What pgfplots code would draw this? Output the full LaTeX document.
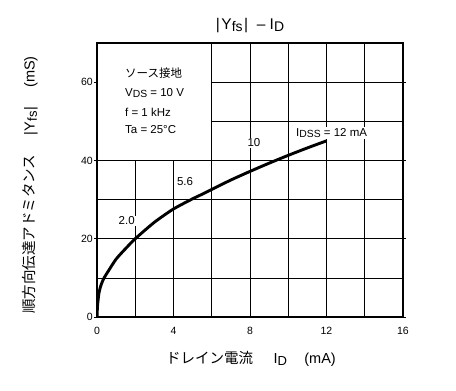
\documentclass[border=0pt]{standalone}
\usepackage{fontspec}
\setmainfont{Liberation Sans}
\newfontfamily\jp{Noto Sans CJK JP}
\usepackage{graphicx}
\usepackage{pgfplots}
\pgfplotsset{compat=1.18}
\newcommand{\lo}[1]{\raisebox{-0.3ex}{\scalebox{0.9}{#1}}}
\begin{document}
\begin{tikzpicture}[x=1pt,y=1pt]
\useasboundingbox (0pt,0pt) rectangle (456pt,-391pt);
\begin{axis}[
  at={(97pt,-317pt)}, anchor=south west,
  scale only axis, width=306pt, height=274pt,
  xmin=0, xmax=16, ymin=0, ymax=70,
  xtick={0,4,8,12,16}, ytick={0,20,40,60},
  axis line style={line width=1.6pt},
  tick align=outside,
  x tick style={draw=none},
  y tick style={black, line width=0.7pt},
  major tick length=3pt,
  /pgf/number format/assume math mode=true,
  tick label style={font=\fontsize{10.5}{12}\selectfont},
  yticklabel style={inner sep=1pt},
  xticklabel style={yshift=-4pt},
]
% grid
\draw[line width=0.7pt] (axis cs:2,0) -- (axis cs:2,40);
\draw[line width=0.7pt] (axis cs:4,0) -- (axis cs:4,40);
\draw[line width=0.7pt] (axis cs:6,0) -- (axis cs:6,70);
\draw[line width=0.7pt] (axis cs:8,0) -- (axis cs:8,70);
\draw[line width=0.7pt] (axis cs:10,0) -- (axis cs:10,70);
\draw[line width=0.7pt] (axis cs:12,0) -- (axis cs:12,70);
\draw[line width=0.7pt] (axis cs:14,0) -- (axis cs:14,70);
\draw[line width=0.7pt] (axis cs:0,10) -- (axis cs:16,10);
\draw[line width=0.7pt] (axis cs:0,20) -- (axis cs:16,20);
\draw[line width=0.7pt] (axis cs:0,30) -- (axis cs:16,30);
\draw[line width=0.7pt] (axis cs:0,40) -- (axis cs:16,40);
\draw[line width=0.7pt] (axis cs:6,50) -- (axis cs:16,50);
\draw[line width=0.7pt] (axis cs:6,60) -- (axis cs:16,60);
\addplot[black, line width=2.9pt, smooth, tension=0.4] coordinates {
 (0,0) (0.03,3) (0.1,6) (0.2,8) (0.35,9.8) (0.6,11.8) (1,14.8) (1.5,17.5)
 (2,20) (3,24.2) (4,27.6) (5,30.2) (5.6,31.6) (6,32.6) (7,35) (8,37.2)
 (9,39.3) (10,41.3) (11,43.2) (12,45)
};
\end{axis}
% annotations
\begin{scope}[every node/.style={font=\fontsize{11.5}{13}\selectfont}]
\node[fill=white, inner sep=1pt] at (126.7pt,-220.7pt) {2.0};
\node[fill=white, inner sep=1pt] at (185pt,-181.7pt) {5.6};
\node[fill=white, inner sep=1pt] at (254pt,-143pt) {10};
\node[fill=white, inner sep=1pt, anchor=west] at (295pt,-133pt) {I\lo{DSS} = 12 mA};
\node[anchor=west, inner sep=0pt] at (125pt,-73pt) {\jp ソース接地};
\node[anchor=west, inner sep=0pt] at (125pt,-93pt) {V\lo{DS} = 10 V};
\node[anchor=west, inner sep=0pt] at (125pt,-112pt) {f = 1 kHz};
\node[anchor=west, inner sep=0pt] at (125pt,-130pt) {Ta = 25°C};
\end{scope}
\node[anchor=base, font=\fontsize{15.5}{17}\selectfont] at (250pt,-29pt)
  {\textbar\kern1.5pt Y\lo{fs}\kern1.5pt\textbar\ \ – I\lo{D}};
\node[anchor=base, font=\fontsize{14.5}{16}\selectfont] at (251pt,-363pt)
  {{\jp ドレイン電流}\hspace{1.4em}I\lo{D}\hspace{1.2em}(mA)};
\node[rotate=90, font=\fontsize{14.5}{16}\selectfont] at (30pt,-185pt)
  {{\jp 順方向伝達アドミタンス}\hspace{1.3em}\textbar\kern1pt Y\lo{fs}\kern1pt\textbar\hspace{1.3em}(mS)};
\end{tikzpicture}
\end{document}
